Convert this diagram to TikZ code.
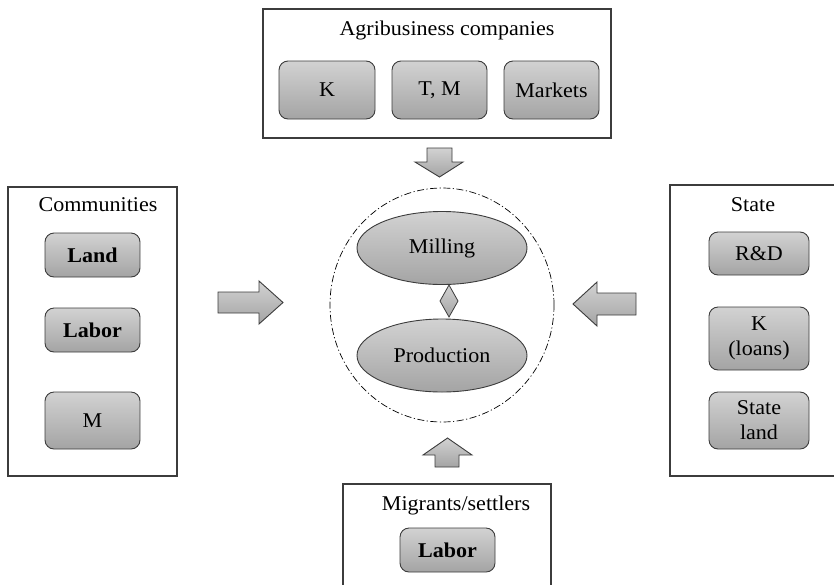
\documentclass[tikz,border=0pt]{standalone}
\usepackage{fontspec}
\setmainfont[FakeStretch=1.05]{Liberation Serif}
\usetikzlibrary{shapes.geometric}
\definecolor{edge}{HTML}{3C3C3C}
\definecolor{topg}{HTML}{D2D2D2}
\definecolor{botg}{HTML}{A4A4A4}
\newcommand{\figfont}{\fontsize{21}{25}\selectfont}
\tikzset{
  outer/.style={draw=edge, line width=1.1pt},
  subbox/.style={draw=edge, line width=0.9pt, rounded corners=9pt, top color=topg, bottom color=botg,
     inner sep=0pt, align=center, font=\figfont},
  boldbox/.style={subbox, font=\figfont\bfseries},
  oval/.style={ellipse, draw=edge, line width=0.9pt, top color=topg, bottom color=botg, inner sep=0pt,
     minimum width=170pt, minimum height=73pt, font=\figfont},
  title/.style={font=\figfont, inner sep=0pt},
  blockarrow/.style={draw=edge, line width=0.9pt, top color=topg, bottom color=botg},
}
\begin{document}
\begin{tikzpicture}[x=1pt, y=-1pt]
\useasboundingbox (0,0) rectangle (834,584);
% top box
\node[outer, minimum width=348pt, minimum height=129pt, inner sep=0pt] (agri) at (437,73.5) {};
\node[title] (agrit) at (447,30) {Agribusiness companies};
\node[subbox, minimum width=96pt, minimum height=58pt] (k) at (327,90) {K};
\node[subbox, minimum width=95pt, minimum height=58pt] (tm) at (439.5,90) {T, M};
\node[subbox, minimum width=95pt, minimum height=58pt] (mk) at (551.5,90) {Markets};
% left box
\node[outer, minimum width=169pt, minimum height=289pt, inner sep=0pt] (comm) at (92.5,331.5) {};
\node[title] (commt) at (98,205) {Communities};
\node[boldbox, minimum width=95pt, minimum height=44pt] (land) at (92.5,255) {Land};
\node[boldbox, minimum width=95pt, minimum height=44pt] (labor) at (92.5,330) {Labor};
\node[subbox, minimum width=95pt, minimum height=57pt] (m) at (92.5,420.5) {M};
% right box (open at right)
\coordinate (st1) at (845,185);
\coordinate (st2) at (670,185);
\coordinate (st3) at (670,476);
\coordinate (st4) at (845,476);
\draw[outer] (st1) -- (st2) -- (st3) -- (st4);
\node[title] (statet) at (753,205) {State};
\node[subbox, minimum width=100pt, minimum height=43pt] (rd) at (759,253.5) {R\&D};
\node[subbox, minimum width=100pt, minimum height=63pt] (kl) at (759,338.5) {K\\(loans)};
\node[subbox, minimum width=100pt, minimum height=57pt] (sl) at (759,420.5) {State\\land};
% bottom box (open at bottom)
\coordinate (mb1) at (343,590);
\coordinate (mb2) at (343,484);
\coordinate (mb3) at (551,484);
\coordinate (mb4) at (551,590);
\draw[outer] (mb1) -- (mb2) -- (mb3) -- (mb4);
\node[title] (migt) at (456,505) {Migrants/settlers};
\node[boldbox, minimum width=95pt, minimum height=44pt] (labor2) at (447.5,550) {Labor};
% centre
\node[draw=black, line width=0.7pt, dash pattern=on 7pt off 2.5pt on 1.2pt off 2.5pt, ellipse,
  minimum width=224pt, minimum height=234pt, inner sep=0pt] (ring) at (442,305) {};
\node[oval] (mill) at (442,248) {Milling};
\node[oval] (prod) at (442,355.5) {Production};
\draw[blockarrow, line width=0.8pt] (449,285) -- (458,301) -- (449,317) -- (440,301) -- cycle;
% block arrows
\draw[blockarrow] (218,292) -- (259,292) -- (259,281) -- (283,302.5) -- (259,324) -- (259,313) -- (218,313) -- cycle;
\draw[blockarrow] (636,293) -- (597,293) -- (597,282) -- (573,304) -- (597,326) -- (597,315) -- (636,315) -- cycle;
\draw[blockarrow] (427,148) -- (452,148) -- (452,162) -- (463,162) -- (439.5,177) -- (415,162) -- (427,162) -- cycle;
\draw[blockarrow] (435,467) -- (435,455) -- (423,455) -- (447.5,438) -- (472,455) -- (459,455) -- (459,467) -- cycle;
\end{tikzpicture}
\end{document}
